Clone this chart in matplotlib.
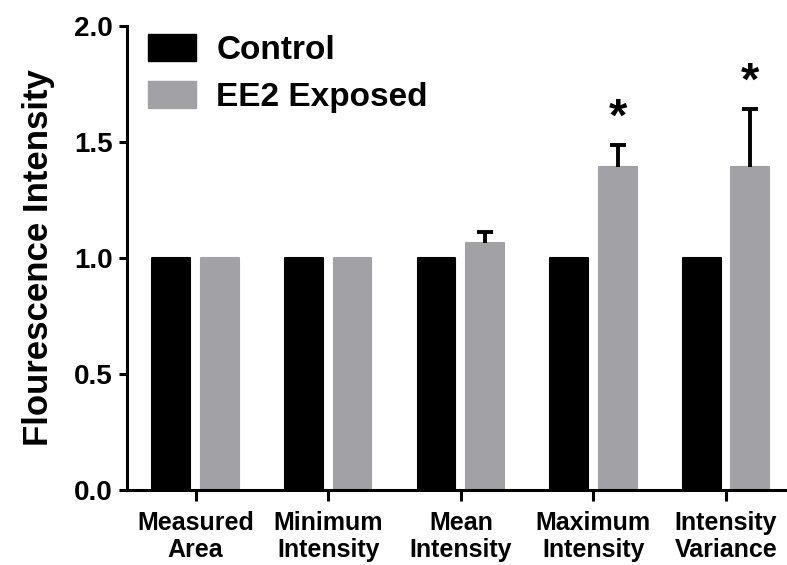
import matplotlib
matplotlib.use("Agg")
import matplotlib.pyplot as plt
from matplotlib.patches import Patch
import numpy as np

plt.rcParams['font.family'] = ['Liberation Sans', 'DejaVu Sans']
plt.rcParams['font.weight'] = 'bold'

categories = ["Measured\nArea", "Minimum\nIntensity", "Mean\nIntensity",
              "Maximum\nIntensity", "Intensity\nVariance"]
control = [1.0, 1.0, 1.0, 1.0, 1.0]
exposed = [1.0, 1.0, 1.063, 1.39, 1.39]
exposed_err = [0.0, 0.0, 0.05, 0.097, 0.25]
significant = [False, False, False, True, True]

black = "#000000"
gray = "#a2a2a6"

fig = plt.figure(figsize=(7.87, 5.65), dpi=100)
ax = fig.add_axes([0.161, 0.133, 0.839, 0.821])

x = np.arange(len(categories))
w = 0.285
off = 0.183
ax.bar(x - off, control, w, color=black, edgecolor=black, linewidth=1.5,
       joinstyle='round', zorder=2)
ax.bar(x + off, exposed, w, color=gray, edgecolor=gray, linewidth=1.5,
       joinstyle='round', zorder=2)

# upward-only error bars
cap = 0.06
for i in range(len(categories)):
    xi = x[i] + off
    top = exposed[i] + exposed_err[i]
    if exposed_err[i] > 0:
        ax.vlines(xi, exposed[i], top, color='black', linewidth=2.8, zorder=3)
        ax.hlines(top, xi - cap, xi + cap, color='black', linewidth=2.8, zorder=3)
    if significant[i]:
        ax.text(xi, top + 0.02, "*", ha='center', va='bottom',
                fontsize=34, fontweight='bold')

ax.set_xlim(-0.52, 4.46)
ax.set_ylim(0, 2.0)
ax.set_yticks([0, 0.5, 1.0, 1.5, 2.0])
ax.set_yticklabels(["0.0", "0.5", "1.0", "1.5", "2.0"])
ax.set_xticks(x)
ax.set_xticklabels(categories, fontsize=18, fontweight='bold', linespacing=1.2)
ax.tick_params(axis='y', labelsize=20, width=2.2, length=6, direction='out', pad=4)
ax.tick_params(axis='x', width=2.2, length=8, direction='out', pad=7)
ax.set_ylabel("Flourescence Intensity", fontsize=25, fontweight='bold', labelpad=14)

for s in ['top', 'right']:
    ax.spines[s].set_visible(False)
for s in ['left', 'bottom']:
    ax.spines[s].set_linewidth(2.2)

handles = [Patch(facecolor=black, edgecolor=black, joinstyle='round'),
           Patch(facecolor=gray, edgecolor=gray, joinstyle='round')]
ax.legend(handles, ["Control", "EE2 Exposed"], loc='upper left',
          bbox_to_anchor=(-0.013, 1.047), frameon=False,
          handlelength=1.45, handleheight=0.85, handletextpad=0.6,
          labelspacing=0.45, prop={'weight': 'bold', 'size': 24})

fig.savefig("out.png", dpi=100)
